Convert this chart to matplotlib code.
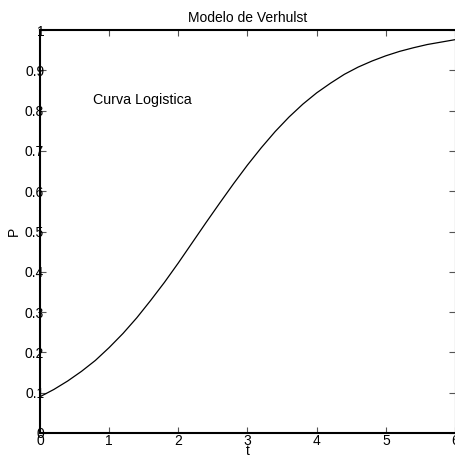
import numpy as np
import matplotlib.pyplot as plt

plt.rcParams['font.family'] = ['Liberation Sans', 'DejaVu Sans']

# valores (t, P)
t = [0.0, 0.2, 0.4, 0.6, 0.8, 1.0, 1.2, 1.4, 1.6, 1.8, 2.0, 2.2, 2.4, 2.6, 2.8, 3.0,
     3.2, 3.4, 3.6, 3.8, 4.0, 4.2, 4.4, 4.6, 4.8, 5.0, 5.2, 5.4, 5.6, 5.8, 6.0]
P = [0.090, 0.108, 0.129, 0.153, 0.180, 0.212, 0.247, 0.286, 0.329, 0.374, 0.422,
     0.472, 0.522, 0.571, 0.619, 0.665, 0.708, 0.748, 0.784, 0.816, 0.844, 0.868,
     0.890, 0.908, 0.923, 0.936, 0.947, 0.956, 0.964, 0.970, 0.976]
xticks = [0, 1, 2, 3, 4, 5, 6]
yticks = [0, 0.1, 0.2, 0.3, 0.4, 0.5, 0.6, 0.7, 0.8, 0.9, 1]
yticklabels = ['0', '0.1', '0.2', '0.3', '0.4', '0.5', '0.6', '0.7', '0.8', '0.9', '1']

fig = plt.figure(figsize=(4.56, 4.59), dpi=100)
ax = fig.add_axes([40 / 456, 26 / 459, 415 / 456, 403 / 459])

ax.plot(t, P, color='black', linewidth=0.9)
ax.text(0.77, 0.826, 'Curva Logistica', fontsize=10.3, ha='left', va='center')

ax.set_xlim(0, 6)
ax.set_ylim(0, 1)
ax.set_xticks(xticks)
ax.set_yticks(yticks)
ax.set_yticklabels(yticklabels)
ax.tick_params(direction='in', length=4, width=0.8, color='#555555',
               top=True, right=True, labelsize=10)
ax.tick_params(axis='y', pad=-3)
ax.tick_params(axis='x', pad=1)

for s in ['left', 'bottom', 'top']:
    ax.spines[s].set_linewidth(1.5)
ax.spines['right'].set_linewidth(0.8)
ax.spines['right'].set_color('#555555')

ax.set_title('Modelo de Verhulst', fontsize=10, pad=6)
ax.set_xlabel('t', fontsize=10, labelpad=-3)
ax.set_ylabel('P', fontsize=10, labelpad=3)

fig.savefig('out.png', dpi=100)
